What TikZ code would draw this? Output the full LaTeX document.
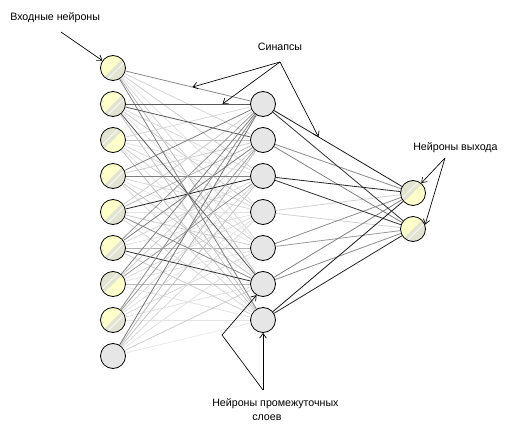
\documentclass[tikz,border=0pt]{standalone}
\usepackage{fontspec}
\setmainfont{Liberation Sans}
\usetikzlibrary{arrows.meta,calc}
\definecolor{ylw}{HTML}{FFFFCC}
\definecolor{ygy}{HTML}{E3E3D1}
\definecolor{hid}{HTML}{E6E6E6}
\begin{document}
\begin{tikzpicture}[x=0.75pt,y=-0.75pt,
  neuron/.style={circle,draw=black,line width=0.6pt,minimum size=18.75pt,inner sep=0pt},
  inA/.style={neuron,fill=ylw,path picture={
     \fill[ygy] (path picture bounding box.north east) -- (path picture bounding box.south east) -- (path picture bounding box.south west) -- cycle;
     \draw[white!70!ygy,line width=0.8pt] ([shift={(2.2pt,-2.2pt)}]path picture bounding box.north east) -- ([shift={(2.2pt,-2.2pt)}]path picture bounding box.south west);}},
  inB/.style={neuron,fill=ygy,path picture={
     \fill[ylw] (path picture bounding box.north east) -- (path picture bounding box.south east) -- (path picture bounding box.south west) -- cycle;
     \draw[white!70!ygy,line width=0.8pt] ([shift={(-2.2pt,2.2pt)}]path picture bounding box.north east) -- ([shift={(-2.2pt,2.2pt)}]path picture bounding box.south west);}},
  hidn/.style={neuron,fill=hid},
  syn/.style={line width=0.6pt},
  note/.style={line width=0.5pt,-{Straight Barb[length=3.5pt,width=5pt]}},
  lbl/.style={font=\fontsize{8pt}{9.6pt}\selectfont,inner sep=0pt}
]
\fill[white] (0,0) rectangle (511,435);
\useasboundingbox (0,0) rectangle (511,435);

% input neurons
\node[inA] (i1) at (113,68) {};
\node[inA] (i2) at (113,104) {};
\node[inB] (i3) at (113,140) {};
\node[inA] (i4) at (113,176) {};
\node[inA] (i5) at (113,212) {};
\node[inA] (i6) at (113,248) {};
\node[inB] (i7) at (113,284) {};
\node[inA] (i8) at (113,320) {};
\node[hidn] (i9) at (113,356) {};

% hidden neurons
\foreach \k in {1,...,7}{
  \node[hidn] (h\k) at (263,{104+36*(\k-1)}) {};
}

% output neurons
\node[inB] (o1) at (413,193) {};
\node[inA] (o2) at (413,229) {};

\def\myedges{1/1/45,1/2/17,1/3/19,1/4/11,1/5/15,1/6/27,1/7/50,
2/1/65,2/2/65,2/3/15,2/4/19,2/5/11,2/6/65,2/7/23,
3/1/15,3/2/23,3/3/11,3/4/15,3/5/19,3/6/11,3/7/23,
4/1/50,4/2/19,4/3/50,4/4/15,4/5/11,4/6/23,4/7/15,
5/1/19,5/2/27,5/3/85,5/4/11,5/5/19,5/6/45,5/7/15,
6/1/40,6/2/50,6/3/15,6/4/11,6/5/30,6/6/80,6/7/19,
7/1/50,7/2/19,7/3/40,7/4/15,7/5/11,7/6/27,7/7/11,
8/1/45,8/2/40,8/3/15,8/4/11,8/5/15,8/6/11,8/7/11,
9/1/55,9/2/27,9/3/23,9/4/15,9/5/11,9/6/19,9/7/8}
\foreach \a/\b/\g in \myedges {\ifnum\g<40 \draw[syn,black!\g] (i\a) -- (h\b);\fi}
\foreach \a/\b/\g in \myedges {\ifnum\g>39 \draw[syn,black!\g] (i\a) -- (h\b);\fi}

\def\myout{4/1/18,4/2/18,2/1/45,2/2/50,5/1/45,5/2/40,6/1/50,6/2/45,1/1/90,1/2/80,3/1/85,3/2/80,7/1/90,7/2/85}
\foreach \a/\b/\g in \myout {\draw[syn,black!\g] (h\a) -- (o\b);}

% labels
\node[lbl,anchor=west] (tin) at (10,18) {Входные нейроны};
\node[lbl] (tsyn) at (280,47) {Синапсы};
\node[lbl,anchor=west] (tout) at (413,148) {Нейроны выхода};
\node[lbl,anchor=west] (tmid1) at (212,404) {Нейроны промежуточных};
\node[lbl,anchor=west] (tmid2) at (252,418) {слоев};

% annotation arrows
\coordinate (ain) at (61,32);
\draw[note] (ain) -- (i1);
\coordinate (asyn) at (280,62);
\draw[note] (asyn) -- ($(i1)!0.53!(h1)$);
\draw[note] (asyn) -- ($(i2)!0.73!(h1)$);
\draw[note] (asyn) -- ($(h1)!0.37!(o1)$);
\coordinate (aout) at (445,158);
\draw[note] (aout) -- (o1.50);
\draw[note] (aout) -- (o2.20);
\coordinate (amid) at (263,390);
\coordinate (abend) at (222,335);
\draw[note] (amid) -- (h7);
\draw[note] (amid) -- (abend) -- (h6.240);
\end{tikzpicture}
\end{document}
